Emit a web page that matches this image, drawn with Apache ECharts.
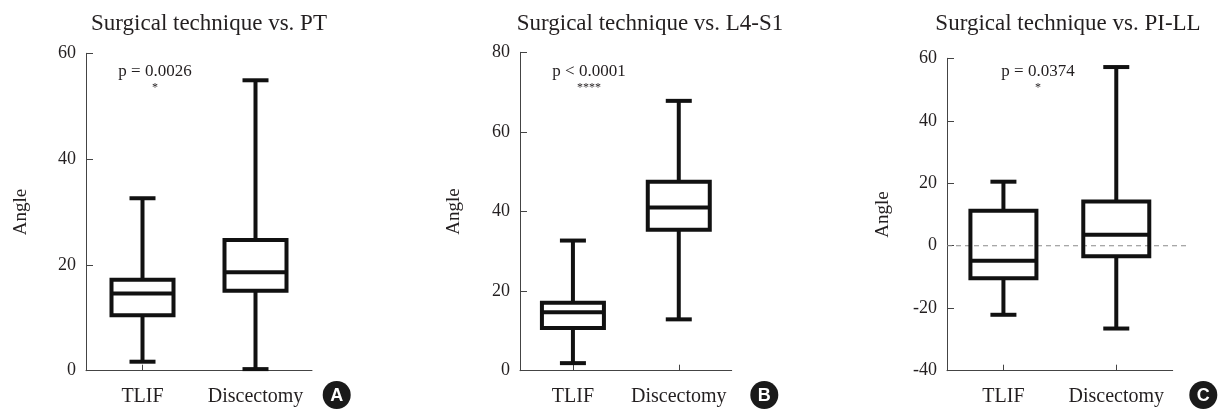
<!DOCTYPE html>
<html>
<head>
<meta charset="utf-8">
<script src="https://cdn.jsdelivr.net/npm/echarts@6/dist/echarts.min.js"></script>
<style>
  html, body { margin: 0; padding: 0; background: #fff; }
  #chart { width: 1222px; height: 412px; }
</style>
</head>
<body>
<div id="chart"></div>
<script>
// categories
var categories = ['TLIF', 'Discectomy']
// [min, Q1, median, Q3, max]
var ptTLIF = [1.7, 10.5, 14.6, 17.2, 32.6]
var ptDisc = [0.3, 15.1, 18.6, 24.7, 54.9]
var l4TLIF = [1.9, 10.7, 14.7, 17.1, 32.7]
var l4Disc = [12.9, 35.4, 41.0, 47.5, 67.8]
var pillTLIF = [-22.1, -10.4, -4.8, 11.2, 20.5]
var pillDisc = [-26.5, -3.4, 3.5, 14.2, 57.2]
// axis ranges
var yRanges = [[0, 60], [0, 80], [-40, 60]]
var titles = ['Surgical technique vs. PT', 'Surgical technique vs. L4-S1', 'Surgical technique vs. PI-LL']
var pTexts = ['p = 0.0026', 'p < 0.0001', 'p = 0.0374']
var stars = ['*', '****', '*']
var letters = ['A', 'B', 'C']

var FONT = 'Liberation Serif'
var TXT = '#231f20'

var myChart = echarts.init(document.getElementById('chart'))

// box + whiskers, narrow caps like the original figure
function boxRender (boxW, capW) {
  return function (params, api) {
    var x = api.value(0)
    var pMin = api.coord([x, api.value(1)])
    var pQ1 = api.coord([x, api.value(2)])
    var pMed = api.coord([x, api.value(3)])
    var pQ3 = api.coord([x, api.value(4)])
    var pMax = api.coord([x, api.value(5)])
    var cx = pMin[0]
    var st = { stroke: '#111', lineWidth: 4, fill: null }
    return {
      type: 'group',
      children: [
        { type: 'line', shape: { x1: cx, y1: pMax[1], x2: cx, y2: pQ3[1] }, style: st },
        { type: 'line', shape: { x1: cx, y1: pQ1[1], x2: cx, y2: pMin[1] }, style: st },
        { type: 'line', shape: { x1: cx - capW / 2, y1: pMax[1], x2: cx + capW / 2, y2: pMax[1] }, style: st },
        { type: 'line', shape: { x1: cx - capW / 2, y1: pMin[1], x2: cx + capW / 2, y2: pMin[1] }, style: st },
        { type: 'rect', shape: { x: cx - boxW / 2, y: pQ3[1], width: boxW, height: pQ1[1] - pQ3[1] }, style: st },
        { type: 'line', shape: { x1: cx - boxW / 2, y1: pMed[1], x2: cx + boxW / 2, y2: pMed[1] }, style: st }
      ]
    }
  }
}

function toRows (a, b) {
  return [[0].concat(a), [1].concat(b)]
}

var grids = [
  { left: 86, top: 53.3, width: 226, height: 317.4 },
  { left: 520, top: 52.3, width: 211.7, height: 318.4 },
  { left: 947, top: 58.3, width: 225.7, height: 312.4 },
  // helper grid for the zero reference line (runs a bit past the x axis)
  { left: 947, top: 58.3, width: 242, height: 312.4 }
]
var nameGaps = [55, 56, 54]
var boxWidths = [62, 62, 66]
var titleCenters = [209, 650, 1068]
var pCenters = [155, 589, 1038]
var letterCenters = [336.7, 764.3, 1203.3]

var xAxes = []
var yAxes = []
for (var i = 0; i < 3; i++) {
  xAxes.push({
    type: 'category',
    gridIndex: i,
    data: categories,
    axisLine: { onZero: false, lineStyle: { color: '#444', width: 1 } },
    axisTick: { show: true, inside: true, length: 6, alignWithLabel: true, lineStyle: { color: '#444' } },
    axisLabel: { interval: 0, fontFamily: FONT, fontSize: 20, color: TXT, margin: 16 },
    splitLine: { show: false }
  })
  yAxes.push({
    type: 'value',
    gridIndex: i,
    min: yRanges[i][0],
    max: yRanges[i][1],
    interval: 20,
    name: 'Angle',
    nameLocation: 'middle',
    nameGap: nameGaps[i],
    nameTextStyle: { fontFamily: FONT, fontSize: 19, color: TXT },
    axisLine: { show: true, lineStyle: { color: '#444', width: 1 } },
    axisTick: { show: true, inside: true, length: 7, lineStyle: { color: '#444' } },
    axisLabel: { fontFamily: FONT, fontSize: 18, color: TXT, margin: 10 },
    splitLine: { show: false }
  })
}
xAxes.push({ type: 'value', gridIndex: 3, min: 0, max: 1, show: false })
yAxes.push({ type: 'value', gridIndex: 3, min: -40, max: 60, show: false })

var boxData = [toRows(ptTLIF, ptDisc), toRows(l4TLIF, l4Disc), toRows(pillTLIF, pillDisc)]
var series = []
for (var j = 0; j < 3; j++) {
  series.push({
    type: 'custom',
    xAxisIndex: j,
    yAxisIndex: j,
    renderItem: boxRender(boxWidths[j], 26),
    encode: { x: 0, y: [1, 2, 3, 4, 5] },
    data: boxData[j],
    z: 3
  })
}
series.push({
  type: 'line',
  xAxisIndex: 3,
  yAxisIndex: 3,
  data: [[0, 0], [1, 0]],
  symbol: 'none',
  silent: true,
  lineStyle: { color: '#8a8a8a', width: 1.2, type: [5, 4] },
  z: 1
})

var titleList = []
var graphics = []
for (var k = 0; k < 3; k++) {
  titleList.push({
    text: titles[k],
    left: titleCenters[k],
    top: 12,
    padding: 0,
    textAlign: 'center',
    textStyle: { fontFamily: FONT, fontSize: 23, fontWeight: 'normal', color: TXT }
  })
  graphics.push({
    type: 'text',
    x: pCenters[k],
    y: 72,
    style: { text: pTexts[k], font: '17px "Liberation Serif"', fill: TXT, align: 'center', verticalAlign: 'middle' }
  })
  graphics.push({
    type: 'text',
    x: pCenters[k],
    y: 88,
    style: { text: stars[k], font: '12px "Liberation Serif"', fill: TXT, align: 'center', verticalAlign: 'middle' }
  })
  graphics.push({
    type: 'circle',
    shape: { cx: letterCenters[k], cy: 395, r: 14 },
    style: { fill: '#1a1a1a' }
  })
  graphics.push({
    type: 'text',
    x: letterCenters[k],
    y: 396,
    style: { text: letters[k], font: 'bold 18px "Liberation Sans"', fill: '#fff', align: 'center', verticalAlign: 'middle' },
    z: 10
  })
}

var option = {
  backgroundColor: '#fff',
  animation: false,
  title: titleList,
  grid: grids,
  xAxis: xAxes,
  yAxis: yAxes,
  series: series,
  graphic: graphics
}
myChart.setOption(option)
</script>
</body>
</html>
